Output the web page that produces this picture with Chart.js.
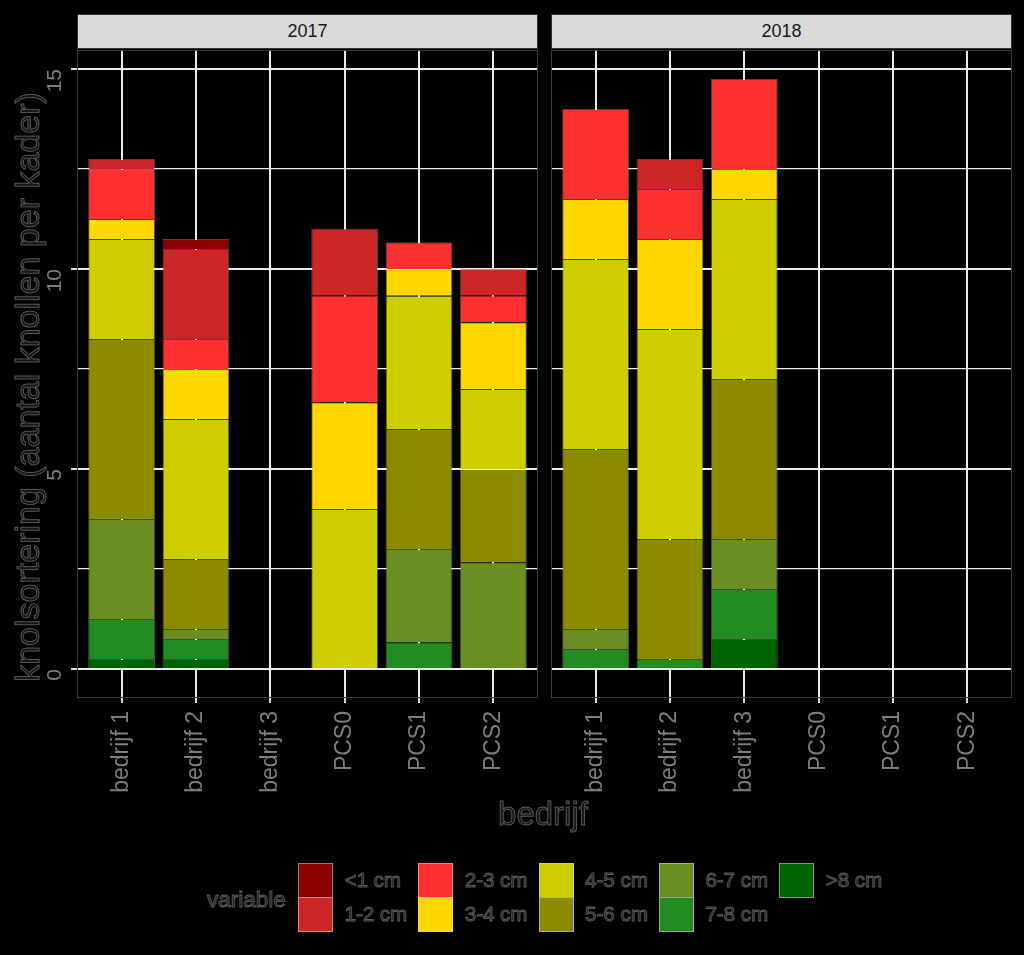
<!DOCTYPE html>
<html><head><meta charset="utf-8">
<script src="https://cdn.jsdelivr.net/npm/chart.js@4.4.1/dist/chart.umd.min.js"></script>
<style>
html,body{margin:0;padding:0;background:#000;width:1024px;height:955px;overflow:hidden;font-family:"Liberation Sans",Arial,sans-serif;}
canvas{position:absolute;top:0;}
.strip{position:absolute;top:14px;height:35px;background:#d9d9d9;border:1px solid #333;box-sizing:border-box;color:#1a1a1a;font-size:18px;text-align:center;line-height:33px;}
.outline{position:absolute;color:#161616;-webkit-text-stroke:0.9px #5c5c5c;white-space:nowrap;}
.key{position:absolute;width:35px;height:35px;box-sizing:border-box;border:1px solid rgba(210,210,210,0.55);}
</style></head>
<body>
<canvas id="c1" width="545" height="820" style="left:0;width:545px;height:820px"></canvas>
<canvas id="c2" width="484" height="820" style="left:540px;width:484px;height:820px"></canvas>
<div id="strips"></div>
<div class="outline" id="ytitle" style="left:-323px;top:367px;width:700px;text-align:center;font-size:34px;line-height:40px;transform:rotate(-90deg);">knolsortering (aantal knollen per kader)</div>
<div class="outline" id="xtitle" style="left:393px;top:794px;width:300px;text-align:center;font-size:33px;line-height:40px;">bedrijf</div>
<div id="legend"></div>
<script>
// ---- data ----
const categories = ['bedrijf 1', 'bedrijf 2', 'bedrijf 3', 'PCS0', 'PCS1', 'PCS2'];
const years = ['2017', '2018'];
const sizeClasses = ['<1 cm', '1-2 cm', '2-3 cm', '3-4 cm', '4-5 cm', '5-6 cm', '6-7 cm', '7-8 cm', '>8 cm'];
const yTickValues = [0, 5, 10, 15];

// 2017 (per category)
const lt1_2017 = [0, 0.25, 0, 0, 0, 0];
const c1_2_2017 = [0.25, 2.25, 0, 1.67, 0, 0.67];
const c2_3_2017 = [1.25, 0.75, 0, 2.67, 0.67, 0.67];
const c3_4_2017 = [0.5, 1.25, 0, 2.67, 0.67, 1.67];
const c4_5_2017 = [2.5, 3.5, 0, 4, 3.33, 2];
const c5_6_2017 = [4.5, 1.75, 0, 0, 3, 2.33];
const c6_7_2017 = [2.5, 0.25, 0, 0, 2.33, 2.67];
const c7_8_2017 = [1, 0.5, 0, 0, 0.67, 0];
const gt8_2017 = [0.25, 0.25, 0, 0, 0, 0];

// 2018 (per category)
const lt1_2018 = [0, 0, 0, 0, 0, 0];
const c1_2_2018 = [0, 0.75, 0, 0, 0, 0];
const c2_3_2018 = [2.25, 1.25, 2.25, 0, 0, 0];
const c3_4_2018 = [1.5, 2.25, 0.75, 0, 0, 0];
const c4_5_2018 = [4.75, 5.25, 4.5, 0, 0, 0];
const c5_6_2018 = [4.5, 3, 4, 0, 0, 0];
const c6_7_2018 = [0.5, 0, 1.25, 0, 0, 0];
const c7_8_2018 = [0.5, 0.25, 1.25, 0, 0, 0];
const gt8_2018 = [0, 0, 0.75, 0, 0, 0];

const series2017 = [lt1_2017, c1_2_2017, c2_3_2017, c3_4_2017, c4_5_2017, c5_6_2017, c6_7_2017, c7_8_2017, gt8_2017];
const series2018 = [lt1_2018, c1_2_2018, c2_3_2018, c3_4_2018, c4_5_2018, c5_6_2018, c6_7_2018, c7_8_2018, gt8_2018];

// ---- styles ----
const classColors = ['#8B0000', '#CD2626', '#FF3030', '#FFD700', '#CDCD00', '#8B8B00', '#6B8E23', '#228B22', '#006400'];

Chart.defaults.font.family = '"Liberation Sans", Arial, sans-serif';

const panelBorder = {
  id: 'panelBorder',
  afterDraw(chart) {
    const a = chart.chartArea, ctx = chart.ctx;
    ctx.save();
    ctx.strokeStyle = '#3a3a3a';
    ctx.lineWidth = 1;
    ctx.strokeRect(a.left + 0.5, a.top + 0.5, a.right - a.left - 1, a.bottom - a.top - 1);
    ctx.restore();
  }
};

function makeChart(id, series, showY, padLeft, padRight) {
  // ggplot stacks the first level on top -> reverse for Chart.js (first dataset at bottom)
  const datasets = sizeClasses.map((name, i) => ({
    label: name,
    data: series[i].map((v, j) => ({ x: j, y: v })),
    backgroundColor: classColors[i],
    borderColor: 'rgba(255,255,255,0.28)',
    borderWidth: ctx => (ctx.raw && ctx.raw.y > 0 ? 1 : 0),
    borderSkipped: 'start',
    barPercentage: 0.9,
    categoryPercentage: 1
  })).reverse();

  return new Chart(document.getElementById(id), {
    type: 'bar',
    data: { datasets },
    plugins: [panelBorder],
    options: {
      responsive: false,
      animation: false,
      events: [],
      layout: { padding: { top: 50, left: padLeft, right: padRight, bottom: 0 } },
      plugins: { legend: { display: false }, tooltip: { enabled: false } },
      scales: {
        x: {
          type: 'linear',
          stacked: true,
          offset: false,
          min: -0.6,
          max: categories.length - 1 + 0.6,
          afterBuildTicks: ax => { ax.ticks = categories.map((c, i) => ({ value: i })); },
          afterFit: ax => { ax.height = 122; },
          ticks: {
            autoSkip: false,
            minRotation: 90,
            maxRotation: 90,
            padding: 8,
            color: '#7d7d7d',
            font: { size: 23 },
            callback: v => categories[v]
          },
          grid: { offset: false, color: '#ebebeb', lineWidth: 2, tickLength: 5, tickColor: '#d8d8d8', tickWidth: 2 },
          border: { display: false }
        },
        y: {
          type: 'linear',
          stacked: true,
          min: -0.725,
          max: 15.475,
          afterBuildTicks: ax => {
            const t = [];
            yTickValues.forEach((v, i) => { t.push({ value: v }); if (i < yTickValues.length - 1) t.push({ value: v + 2.5 }); });
            ax.ticks = t;
          },
          afterFit: ax => { ax.width = showY ? 77 : 0; },
          ticks: {
            display: showY,
            minRotation: 90,
            maxRotation: 90,
            padding: 16,
            color: '#7d7d7d',
            font: { size: 21 },
            callback: v => (yTickValues.includes(v) ? String(v) : '')
          },
          grid: {
            color: '#ebebeb',
            lineWidth: ctx => (ctx.tick && yTickValues.includes(ctx.tick.value) ? 2 : 1.2),
            drawTicks: showY,
            tickLength: 6,
            tickWidth: 2,
            tickColor: ctx => (ctx.tick && yTickValues.includes(ctx.tick.value) ? '#d8d8d8' : 'rgba(0,0,0,0)')
          },
          border: { display: false }
        }
      }
    }
  });
}

const chart1 = makeChart('c1', series2017, true, 0, 7);
const chart2 = makeChart('c2', series2018, false, 11, 12);

// strips (facet labels) above each panel
const stripHost = document.getElementById('strips');
[[chart1, 0], [chart2, 540]].forEach(([ch, off], k) => {
  const d = document.createElement('div');
  d.className = 'strip';
  d.style.left = (off + ch.chartArea.left) + 'px';
  d.style.width = (ch.chartArea.right - ch.chartArea.left) + 'px';
  d.textContent = years[k];
  stripHost.appendChild(d);
});

// legend (two rows, filled column-wise, like ggplot)
const lg = document.getElementById('legend');
const title = document.createElement('div');
title.className = 'outline';
title.style.cssText = 'left:207px;top:886px;font-size:22.5px;line-height:28px;';
title.textContent = 'variable';
lg.appendChild(title);
sizeClasses.forEach((name, i) => {
  const col = Math.floor(i / 2), row = i % 2;
  const kx = 298 + col * 120.3, ky = 862.5 + row * 34.7;
  const k = document.createElement('div');
  k.className = 'key';
  k.style.left = kx + 'px';
  k.style.top = ky + 'px';
  k.style.background = classColors[i];
  lg.appendChild(k);
  const t = document.createElement('div');
  t.className = 'outline';
  t.style.cssText = `left:${kx + 46.5}px;top:${ky + 4}px;font-size:20.5px;line-height:26px;`;
  t.textContent = name;
  lg.appendChild(t);
});
</script>
</body></html>
